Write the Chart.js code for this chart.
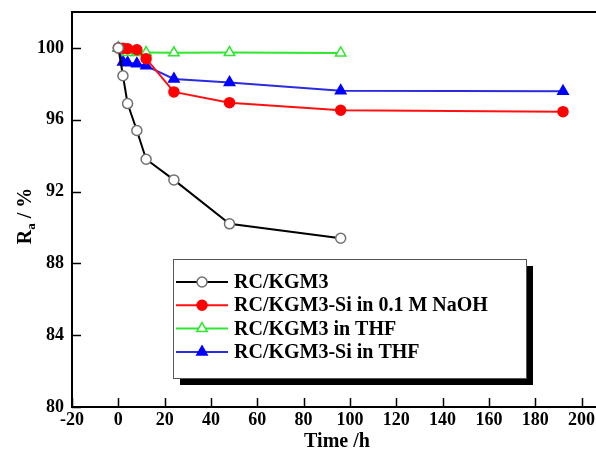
<!DOCTYPE html>
<html>
<head>
<meta charset="utf-8">
<script src="https://cdn.jsdelivr.net/npm/chart.js@4.4.0/dist/chart.umd.min.js"></script>
<style>
  html, body { margin: 0; padding: 0; background: #fff; }
  #wrap { width: 596px; height: 455px; }
</style>
</head>
<body>
<div id="wrap"><canvas id="rateChart" width="596" height="455"></canvas></div>
<script>
// data
const seriesNames = ['RC/KGM3', 'RC/KGM3-Si in 0.1 M NaOH', 'RC/KGM3 in THF', 'RC/KGM3-Si in THF'];

const rcTime = [0, 2, 4, 8, 12, 24, 48, 96];
const rcValue = [100, 98.45, 96.9, 95.4, 93.8, 92.65, 90.2, 89.4];

const naohTime = [0, 2, 4, 8, 12, 24, 48, 96, 192];
const naohValue = [100, 99.98, 99.95, 99.9, 99.4, 97.55, 96.95, 96.53, 96.45];

const thfTime = [0, 4, 8, 12, 24, 48, 96];
const thfValue = [100, 99.75, 99.74, 99.74, 99.73, 99.74, 99.72];

const siThfTime = [0, 2, 4, 8, 12, 24, 48, 96, 192];
const siThfValue = [100, 99.22, 99.18, 99.12, 99.0, 98.27, 98.08, 97.62, 97.58];

const xTicks = [-20, 0, 20, 40, 60, 80, 100, 120, 140, 160, 180, 200];
const yTicks = [80, 84, 88, 92, 96, 100];

const fontFam = '"Liberation Serif", "Times New Roman", serif';

function toPoints(xs, ys) {
  return xs.map((x, i) => ({ x, y: ys[i] }));
}

// frame, inward ticks, axis titles and the boxed legend
const framePlugin = {
  id: 'frame',
  afterDraw(chart) {
    const { ctx, chartArea: a, scales } = chart;
    ctx.save();
    ctx.strokeStyle = '#000';
    ctx.lineWidth = 2;
    ctx.beginPath();
    ctx.moveTo(596, a.top);
    ctx.lineTo(a.left, a.top);
    ctx.lineTo(a.left, a.bottom);
    ctx.lineTo(596, a.bottom);
    ctx.stroke();

    ctx.lineWidth = 1.5;
    ctx.beginPath();
    xTicks.forEach(v => {
      const px = Math.round(scales.x.getPixelForValue(v)) + 0.5;
      ctx.moveTo(px, a.bottom);
      ctx.lineTo(px, a.bottom - 9);
    });
    yTicks.forEach(v => {
      const py = Math.round(scales.y.getPixelForValue(v)) + 0.5;
      ctx.moveTo(a.left, py);
      ctx.lineTo(a.left + 9, py);
    });
    ctx.stroke();

    // x title
    ctx.fillStyle = '#000';
    ctx.font = 'bold 20px ' + fontFam;
    ctx.textAlign = 'center';
    ctx.textBaseline = 'middle';
    ctx.fillText('Time /h', 337, 442);

    // y title with subscript
    ctx.save();
    ctx.translate(24, 216);
    ctx.rotate(-Math.PI / 2);
    ctx.textAlign = 'left';
    ctx.textBaseline = 'alphabetic';
    const big = 'bold 20px ' + fontFam;
    const small = 'bold 13px ' + fontFam;
    ctx.font = big;
    const wR = ctx.measureText('R').width;
    ctx.font = small;
    const wA = ctx.measureText('a').width;
    ctx.font = big;
    const wRest = ctx.measureText(' / %').width;
    let x0 = -(wR + wA + wRest) / 2;
    ctx.fillText('R', x0, 7);
    ctx.font = small;
    ctx.fillText('a', x0 + wR, 11);
    ctx.font = big;
    ctx.fillText(' / %', x0 + wR + wA, 7);
    ctx.restore();

    // legend box with shadow
    const bx = 173, by = 259, bw = 353, bh = 119, sh = 7;
    ctx.fillStyle = '#000';
    ctx.fillRect(bx + sh, by + sh, bw, bh);
    ctx.fillStyle = '#fff';
    ctx.fillRect(bx, by, bw, bh);
    ctx.strokeStyle = '#555';
    ctx.lineWidth = 1;
    ctx.strokeRect(bx + 0.5, by + 0.5, bw, bh);

    chart.data.datasets.forEach((ds, i) => {
      const ry = 282 + i * 23.3;
      ctx.strokeStyle = ds.borderColor;
      ctx.lineWidth = 2;
      ctx.beginPath();
      ctx.moveTo(176, ry);
      ctx.lineTo(228, ry);
      ctx.stroke();
      ctx.fillStyle = ds.pointBackgroundColor;
      ctx.strokeStyle = ds.pointBorderColor;
      ctx.lineWidth = ds.pointBorderWidth;
      Chart.helpers.drawPoint(ctx, {
        pointStyle: ds.pointStyle,
        radius: ds.pointRadius,
        rotation: 0,
        borderWidth: ds.pointBorderWidth
      }, 202, ry);
      ctx.fillStyle = '#000';
      ctx.font = 'bold 20px ' + fontFam;
      ctx.textAlign = 'left';
      ctx.textBaseline = 'middle';
      ctx.fillText(ds.label, 234, ry + 1);
    });
    ctx.restore();
  }
};

function makeSet(label, pts, line, fill, edge, style, radius) {
  return {
    label,
    data: pts,
    borderColor: line,
    borderWidth: 2,
    pointStyle: style,
    pointRadius: radius,
    pointHoverRadius: radius,
    pointBackgroundColor: fill,
    pointBorderColor: edge,
    pointBorderWidth: 1.5,
    tension: 0,
    clip: false
  };
}

new Chart(document.getElementById('rateChart'), {
  type: 'line',
  data: {
    datasets: [
      makeSet(seriesNames[0], toPoints(rcTime, rcValue), '#000000', '#ffffff', '#707070', 'circle', 5),
      makeSet(seriesNames[1], toPoints(naohTime, naohValue), '#ff1010', '#ff0000', '#ff0000', 'circle', 5),
      makeSet(seriesNames[2], toPoints(thfTime, thfValue), '#2ee62e', '#ffffff', '#2ee62e', 'triangle', 6),
      makeSet(seriesNames[3], toPoints(siThfTime, siThfValue), '#2a2ae0', '#0000ff', '#0000ff', 'triangle', 6)
    ]
  },
  options: {
    responsive: false,
    animation: false,
    events: [],
    layout: { padding: { top: 12, right: 0, left: 0, bottom: 0 } },
    plugins: {
      legend: { display: false },
      tooltip: { enabled: false }
    },
    scales: {
      x: {
        type: 'linear',
        min: -20,
        max: 203,
        grid: { display: false, drawTicks: false },
        border: { display: false },
        afterFit: s => { s.height = 48; s.paddingLeft = 0; s.paddingRight = 0; },
        afterBuildTicks: s => { s.ticks = xTicks.map(v => ({ value: v })); },
        ticks: {
          color: '#000',
          padding: 3,
          maxRotation: 0,
          autoSkip: false,
          font: { family: fontFam, size: 18, weight: 'bold' }
        }
      },
      y: {
        type: 'linear',
        min: 80,
        max: 102,
        grid: { display: false, drawTicks: false },
        border: { display: false },
        afterFit: s => { s.width = 72; s.paddingTop = 0; s.paddingBottom = 0; },
        afterBuildTicks: s => { s.ticks = yTicks.map(v => ({ value: v })); },
        ticks: {
          color: '#000',
          padding: 8,
          autoSkip: false,
          font: { family: fontFam, size: 18, weight: 'bold' }
        }
      }
    }
  },
  plugins: [framePlugin]
});
</script>
</body>
</html>
